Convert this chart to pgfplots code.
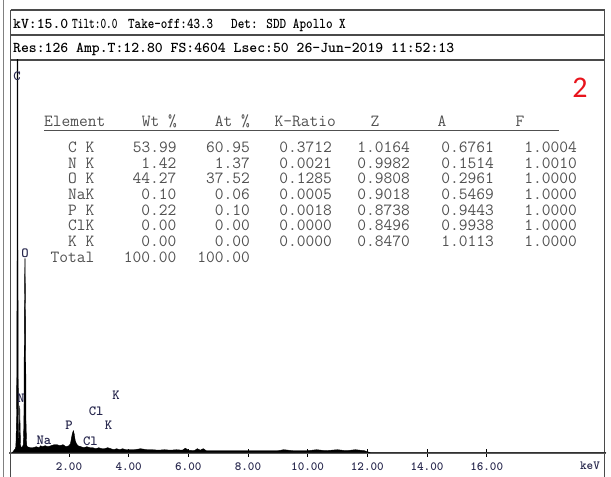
\documentclass[border=0pt]{standalone}
\usepackage{pgfplots}
\pgfplotsset{compat=1.18}
\usepackage{fontspec}
\newfontfamily\markfont{Carlito}
\definecolor{tabgray}{HTML}{505050}
\definecolor{framegray}{HTML}{4A4A4A}
\definecolor{peaknavy}{HTML}{26264C}
\definecolor{markred}{HTML}{E8141C}

% EDS spectrum: energy (keV) vs. counts (display units, off-scale C peak clipped)
\pgfplotstableread{
keV    cts
0.10   0
0.15   2
0.20   4
0.22   6
0.24   30
0.255  100
0.265  400
0.275  600
0.285  400
0.295  100
0.31   20
0.325  8
0.34   30
0.35   47
0.36   30
0.375  8
0.40   5
0.44   6
0.47   8
0.49   30
0.505  135
0.52   194
0.53   194
0.545  135
0.56   30
0.58   8
0.60   6
0.70   5
0.80   5
0.90   6
1.00   5
1.05   7
1.10   6
1.20   7
1.30   6
1.40   7
1.50   8
1.60   8
1.70   7
1.80   8
1.90   6
2.00   7
2.05   9
2.08   14
2.12   20
2.15   22
2.18   18
2.21   12
2.25   9
2.30   7
2.40   6
2.50   5
2.60   6
2.70   5
2.80   5
2.90   4
3.00   5
3.10   4
3.20   4
3.30   5
3.40   4
3.50   3
3.60   4
3.70   3
3.80   4
3.90   3
4.00   3
4.20   3
4.40   4
4.60   3
4.80   3
5.00   2.5
5.20   3
5.40   2.5
5.60   3
5.80   2.5
5.90   4.5
6.00   2.5
6.20   2
6.30   4
6.40   2.5
6.50   4
6.60   2
6.80   2
7.00   2
7.20   2
7.40   2
7.60   2
7.80   2
8.00   2
8.50   2
9.00   2
9.20   3
9.50   2
10.00  2
10.30  3
10.60  2
11.00  3
11.30  2
11.60  3
11.90  2
12.00  1
12.10  0
20.00  0
}\spectrum

\begin{document}
\begin{tikzpicture}[x=1pt,y=1pt]
\path[use as bounding box] (0,0) rectangle (611,477);

% instrument frame
\draw[gray, line width=0.8pt] (3,477) -- (3,0);
\draw[framegray, line width=1.2pt] (10.5,467) -- (604.5,467);
\draw[framegray, line width=1.2pt] (10.5,442) -- (604.5,442);
\draw[framegray, line width=1.2pt] (10.5,417) -- (604.5,417);
\draw[framegray, line width=1.2pt] (10.5,467) -- (10.5,0);
\draw[framegray, line width=1.2pt] (604.5,467) -- (604.5,0);

% acquisition header
\begin{scope}[every node/.style={anchor=base west, inner sep=0pt, font=\ttfamily\bfseries\fontsize{15}{15}\selectfont}]
\node at (13,448.5) {kV:15.0};
\node at (72,448.5) {\scalebox{0.72}[1]{Tilt:0.0}};
\node at (128,448.5) {\scalebox{0.83}[1]{Take-off:43.3}};
\node at (231,448.5) {\scalebox{0.84}[1]{Det: SDD Apollo X}};
\node at (13,424.5) {Res:126 Amp.T:12.80 FS:4604 Lsec:50 26-Jun-2019 11:52:13};
\end{scope}

% quantification table
\begin{scope}[every node/.style={inner sep=0pt, text=tabgray, font=\ttfamily\fontsize{17}{17}\selectfont}]
\node[anchor=base west] at (44,350.5) {Element};
\node[anchor=base east] at (177,350.5) {Wt \%};
\node[anchor=base east] at (250,350.5) {At \%};
\node[anchor=base east] at (336,350.5) {K-Ratio};
\node[anchor=base] at (375,350.5) {Z};
\node[anchor=base] at (442,350.5) {A};
\node[anchor=base] at (520,350.5) {F};
\draw[tabgray, line width=1.5pt] (44,346.5) -- (559,346.5);
\foreach \el/\wt/\at/\kr/\z/\a/\f [count=\i from 0] in {
  C K/53.99/60.95/0.3712/1.0164/0.6761/1.0004,
  N K/1.42/1.37/0.0021/0.9982/0.1514/1.0010,
  O K/44.27/37.52/0.1285/0.9808/0.2961/1.0000,
  NaK/0.10/0.06/0.0005/0.9018/0.5469/1.0000,
  P K/0.22/0.10/0.0018/0.8738/0.9443/1.0000,
  ClK/0.00/0.00/0.0000/0.8496/0.9938/1.0000,
  K K/0.00/0.00/0.0000/0.8470/1.0113/1.0000}{
  \pgfmathsetmacro{\yb}{324.5-15.65*\i}
  \node[anchor=base east] at (94.5,\yb) {\el};
  \node[anchor=base east] at (176.7,\yb) {\wt};
  \node[anchor=base east] at (250,\yb) {\at};
  \node[anchor=base east] at (332,\yb) {\kr};
  \node[anchor=base east] at (410,\yb) {\z};
  \node[anchor=base east] at (494,\yb) {\a};
  \node[anchor=base east] at (577,\yb) {\f};
}
\node[anchor=base east] at (94.5,214.95) {Total};
\node[anchor=base east] at (176.7,214.95) {100.00};
\node[anchor=base east] at (250,214.95) {100.00};
\end{scope}

\node[text=markred, font=\markfont\fontsize{30}{30}\selectfont] at (580,389) {2};
\node[text=peaknavy, font=\ttfamily\bfseries\fontsize{12.5}{12.5}\selectfont, inner sep=0pt] at (590,11) {keV};

\begin{axis}[
  at={(9.3pt,24.3pt)}, anchor=south west,
  scale only axis, width=596.7pt, height=392.7pt,
  xmin=0, xmax=20, ymin=0, ymax=392.7,
  axis x line*=bottom, axis y line=none,
  x axis line style={line width=2.4pt, color=gray!70!black, -},
  xtick={2,4,6,8,10,12,14,16},
  xticklabels={2.00,4.00,6.00,8.00,10.00,12.00,14.00,16.00},
  ytick=\empty,
  tick align=center, major tick length=8pt,
  tick style={black, line width=0.9pt},
  xticklabel style={text=peaknavy, font=\ttfamily\bfseries\fontsize{12.5}{12.5}\selectfont, yshift=-2pt},
  clip=true,
]
\addplot[fill=black, draw=black, line width=0.4pt] table[x=keV, y=cts] {\spectrum} \closedcycle;

% line markers
\begin{scope}[every node/.style={text=peaknavy, inner sep=0pt, font=\ttfamily\bfseries\fontsize{14}{14}\selectfont}]
\node at (axis cs:0.26,376.7) {C};
\node at (axis cs:0.525,199.7) {O};
\node at (axis cs:0.39,54.7) {N};
\node at (axis cs:1.16,12.7) {Na};
\node at (axis cs:2.0,27.7) {P};
\node at (axis cs:2.72,11.7) {Cl};
\node at (axis cs:2.91,41.7) {Cl};
\node at (axis cs:3.33,27.7) {K};
\node at (axis cs:3.58,57.7) {K};
\end{scope}
\end{axis}
\end{tikzpicture}
\end{document}
